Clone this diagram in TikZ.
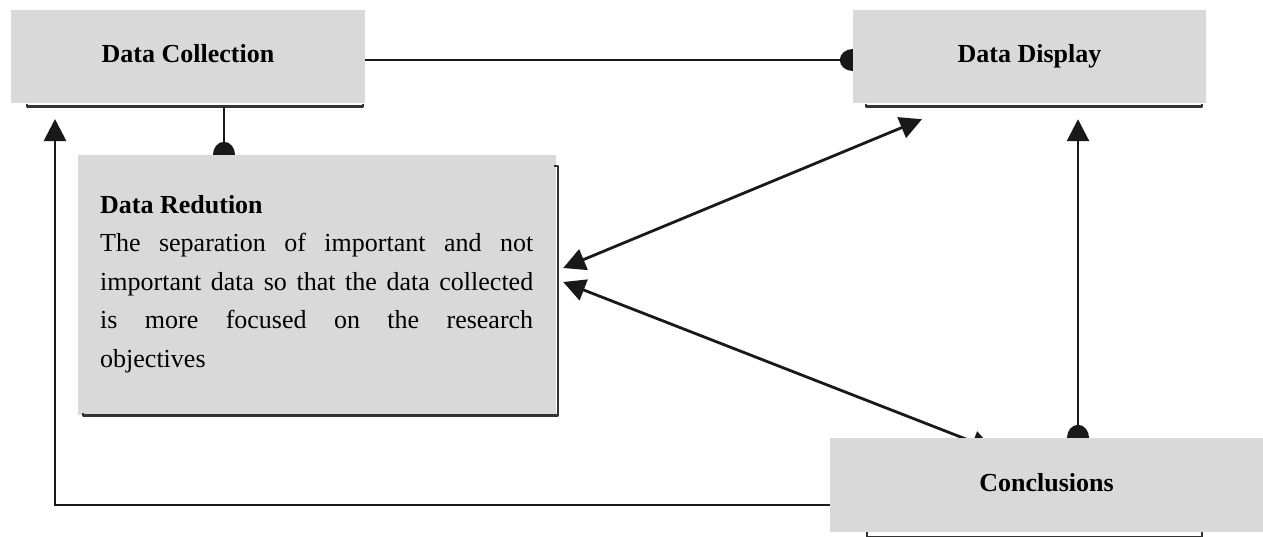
\documentclass[tikz,border=0pt]{standalone}
\usepackage{fontspec}
\setmainfont{Liberation Serif}
\usetikzlibrary{arrows.meta,backgrounds}
\definecolor{boxgray}{HTML}{D9D9D9}
\tikzset{
  bigtip/.tip={Triangle[length=22pt,width=22pt]},
  blobtip/.tip={Ellipse[length=26pt,width=22pt]},
}
\begin{document}
\begin{tikzpicture}[x=1pt,y=-1pt,
  box/.style={rectangle, fill=boxgray, draw=none, inner sep=0pt},
  lbl/.style={font=\fontsize{26}{38.5}\selectfont\bfseries, text height=18pt, text depth=6pt},
  conn/.style={line width=2.8pt, draw=black!90},
  shadowline/.style={line width=2.4pt, draw=black!80, line join=round},
]
\useasboundingbox (0,0) rectangle (1263,536);
% boxes
\node[box, minimum width=354pt, minimum height=93pt, lbl] (dc) at (188,56.5) {Data Collection};
\node[box, minimum width=353pt, minimum height=93pt, lbl] (dd) at (1029.5,56.5) {Data Display};
\node[box, minimum width=478pt, minimum height=260pt] (dr) at (317,285) {};
\node[anchor=north west, inner sep=0pt, text width=433pt, align=justify,
      font=\fontsize{26}{38.5}\selectfont] (drt) at (100,195)
  {\tolerance=10000\textbf{Data Redution}\\
   The separation of important and not\linebreak important data so that the data collected\linebreak is more focused on the research\linebreak objectives};
\node[box, minimum width=433pt, minimum height=94pt, lbl] (cc) at (1046.5,485) {Conclusions};
% shadow edges
\draw[shadowline] (27,103.5) -- (27,106.5) -- (363,106.5) -- (363,103.5);
\draw[shadowline] (866,103.5) -- (866,106.5) -- (1202,106.5) -- (1202,103.5);
\draw[shadowline] (554,166) -- (558,166) -- (558,415.5) -- (83,415.5) -- (83,413);
\draw[shadowline] (867,532) -- (867,537) -- (1202,537) -- (1202,532);
% connectors
\coordinate (fbtop) at (55,119);
\begin{scope}[on background layer]
\draw[conn, -{blobtip}] ([yshift=-3.5pt]dc.east) -- ([xshift=13pt,yshift=-3.5pt]dd.west);
\draw[conn, -{blobtip}] ([xshift=36pt,yshift=-3.5pt]dc.south) -- ([xshift=36pt,yshift=-13pt]dc.south |- dr.north);
\draw[conn, -{bigtip}] ([yshift=-20pt]cc.west) -| (fbtop);
\draw[conn, {bigtip}-{bigtip}] ([xshift=7pt,yshift=17pt]dr.east) -- ([xshift=-107.5pt,yshift=-16pt]dd.south);
\draw[conn, {bigtip}-{bigtip}] ([xshift=7pt,yshift=3pt]dr.east) -- ([xshift=-53pt,yshift=-12pt]cc.north);
\draw[conn, {bigtip}-{blobtip}] ([xshift=48.5pt,yshift=-16pt]dd.south) -- ([xshift=31.5pt,yshift=-13pt]cc.north);
\end{scope}
\end{tikzpicture}
\end{document}
